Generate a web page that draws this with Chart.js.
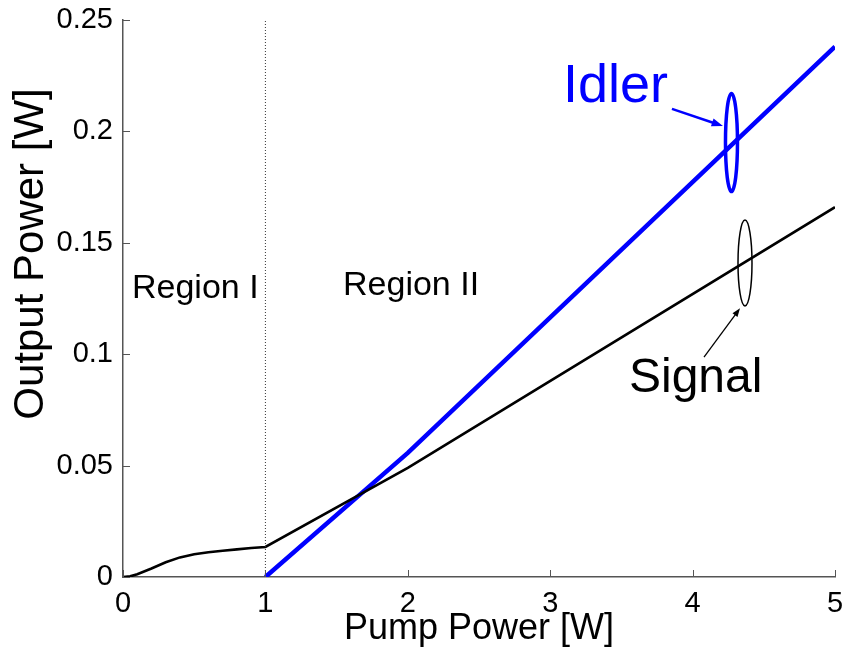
<!DOCTYPE html>
<html>
<head>
<meta charset="utf-8">
<title>Output Power vs Pump Power</title>
<script src="https://cdn.jsdelivr.net/npm/chart.js@4/dist/chart.umd.min.js"></script>
<style>
	body { margin: 0; background: #fff; }
	#contenedor { width: 844px; height: 657px; }
</style>
</head>
<body>
<div id="contenedor">
	<canvas id="Grafico" width="844" height="657"></canvas>
</div>
<script>
	// valores
	let signalPump = [0, 0.05, 0.1, 0.2, 0.3, 0.4, 0.5, 0.6, 0.7, 0.8, 0.9, 1.0, 2.0, 5.0]
	let signalOut = [0, 0.0003, 0.0012, 0.0038, 0.0066, 0.0088, 0.0102, 0.0111, 0.0118, 0.0124, 0.0130, 0.0135, 0.049, 0.166]

	let idlerPump = [1.0, 2.0, 5.0]
	let idlerOut = [0, 0.0557, 0.238]

	// linea punteada que separa las regiones
	let divisorPump = [1, 1]
	let divisorOut = [0, 0.25]

	// ticks de los ejes
	let ticksX = [0, 1, 2, 3, 4, 5]
	let ticksY = [0, 0.05, 0.1, 0.15, 0.2, 0.25]

	const fuente = '"Liberation Sans", Arial, sans-serif'
	const colorEje = '#555'
	const azul = '#0000ff'

	let grafico = null

	// arma los puntos {x,y} a partir de dos vectores
	function juntar(xs, ys){
		return xs.map((x, i) => ({x: x, y: ys[i]}))
	}

	// dibuja los textos, elipses y flechas del gráfico
	const anotaciones = {
		id: 'anotaciones',
		afterDatasetsDraw(chart){
			const ctx = chart.ctx
			const sx = chart.scales.x
			const sy = chart.scales.y
			const px = v => sx.getPixelForValue(v)
			const py = v => sy.getPixelForValue(v)

			ctx.save()
			ctx.textBaseline = 'alphabetic'
			ctx.textAlign = 'left'

			ctx.fillStyle = '#000'
			ctx.font = '34px ' + fuente
			ctx.fillText('Region I', px(0.063), py(0.1252))
			ctx.fillText('Region II', px(1.545), py(0.1266))

			ctx.fillStyle = azul
			ctx.font = '54px ' + fuente
			ctx.fillText('Idler', px(3.09), py(0.2132))

			ctx.fillStyle = '#000'
			ctx.font = '48px ' + fuente
			ctx.fillText('Signal', px(3.553), py(0.083))

			// elipses
			ctx.lineWidth = 3.5
			ctx.strokeStyle = azul
			ctx.beginPath()
			ctx.ellipse(px(4.273), py(0.195), 6, 49, 0, 0, Math.PI * 2)
			ctx.stroke()

			ctx.lineWidth = 1.5
			ctx.strokeStyle = '#000'
			ctx.beginPath()
			ctx.ellipse(px(4.368), py(0.1409), 7, 43, 0, 0, Math.PI * 2)
			ctx.stroke()

			// flechas
			flecha(ctx, px(3.855), py(0.2101), px(4.213), py(0.2024), azul, 2.5, 12)
			flecha(ctx, px(4.08), py(0.0987), px(4.333), py(0.1206), '#000', 1.3, 9)

			ctx.restore()
		},
		afterDraw(chart){
			// ticks hacia adentro
			const ctx = chart.ctx
			const area = chart.chartArea
			const sx = chart.scales.x
			const sy = chart.scales.y
			ctx.save()
			ctx.strokeStyle = colorEje
			ctx.lineWidth = 1
			ticksX.forEach(v => {
				const x = Math.round(sx.getPixelForValue(v)) + 0.5
				ctx.beginPath()
				ctx.moveTo(x, area.bottom)
				ctx.lineTo(x, area.bottom - 7)
				ctx.stroke()
			})
			ticksY.forEach(v => {
				const y = Math.round(sy.getPixelForValue(v)) + 0.5
				ctx.beginPath()
				ctx.moveTo(area.left, y)
				ctx.lineTo(area.left + 7, y)
				ctx.stroke()
			})

			// titulo del eje y
			ctx.fillStyle = '#000'
			ctx.font = '42px ' + fuente
			ctx.textAlign = 'center'
			ctx.textBaseline = 'middle'
			ctx.translate(31, 254)
			ctx.rotate(-Math.PI / 2)
			ctx.fillText('Output Power [W]', 0, 0)
			ctx.restore()
		}
	}

	function flecha(ctx, x1, y1, x2, y2, color, ancho, punta){
		const ang = Math.atan2(y2 - y1, x2 - x1)
		ctx.strokeStyle = color
		ctx.fillStyle = color
		ctx.lineWidth = ancho
		ctx.beginPath()
		ctx.moveTo(x1, y1)
		ctx.lineTo(x2 - Math.cos(ang) * punta * 0.8, y2 - Math.sin(ang) * punta * 0.8)
		ctx.stroke()
		ctx.beginPath()
		ctx.moveTo(x2, y2)
		ctx.lineTo(x2 - punta * Math.cos(ang - 0.35), y2 - punta * Math.sin(ang - 0.35))
		ctx.lineTo(x2 - punta * Math.cos(ang + 0.35), y2 - punta * Math.sin(ang + 0.35))
		ctx.closePath()
		ctx.fill()
	}

	function pintaGrafico(){
		const valores = {
			datasets: [
				{
					label: 'Divisor',
					data: juntar(divisorPump, divisorOut),
					borderColor: '#333',
					borderWidth: 1,
					borderDash: [1, 2],
					pointRadius: 0
				},
				{
					label: 'Signal',
					data: juntar(signalPump, signalOut),
					borderColor: '#000',
					borderWidth: 2.6,
					pointRadius: 0,
					tension: 0
				},
				{
					label: 'Idler',
					data: juntar(idlerPump, idlerOut),
					borderColor: azul,
					borderWidth: 4.5,
					pointRadius: 0,
					tension: 0
				}
			]
		}

		const options = {
			responsive: false,
			animation: false,
			layout: {
				padding: {top: 20, right: 9, left: 0, bottom: 0}
			},
			plugins: {
				legend: {display: false},
				tooltip: {enabled: false}
			},
			scales: {
				x: {
					type: 'linear',
					min: 0,
					max: 5,
					afterFit: s => { s.height = 80 },
					afterBuildTicks: s => { s.ticks = ticksX.map(v => ({value: v})) },
					grid: {display: false, drawTicks: true, tickLength: 10},
					border: {display: true, color: colorEje, width: 1.5},
					ticks: {
						padding: 0,
						color: '#000',
						font: {family: fuente, size: 29}
					},
					title: {
						display: true,
						text: 'Pump Power [W]',
						color: '#000',
						font: {family: fuente, size: 36},
						padding: {top: 0, bottom: 6}
					}
				},
				y: {
					type: 'linear',
					min: 0,
					max: 0.25,
					afterFit: s => { s.width = 123 },
					afterBuildTicks: s => { s.ticks = ticksY.map(v => ({value: v})) },
					grid: {display: false, drawTicks: true, tickLength: 10},
					border: {display: true, color: colorEje, width: 1.5},
					ticks: {
						padding: 0,
						color: '#000',
						font: {family: fuente, size: 29},
						callback: v => String(Math.round(v * 100) / 100)
					}
				}
			}
		}

		const config = {
			type: 'line',
			data: valores,
			options: options,
			plugins: [anotaciones]
		}

		if(grafico != null){
			grafico.destroy()
		}
		grafico = new Chart(document.querySelector("#Grafico"), config)
	}

	pintaGrafico()
</script>
</body>
</html>
